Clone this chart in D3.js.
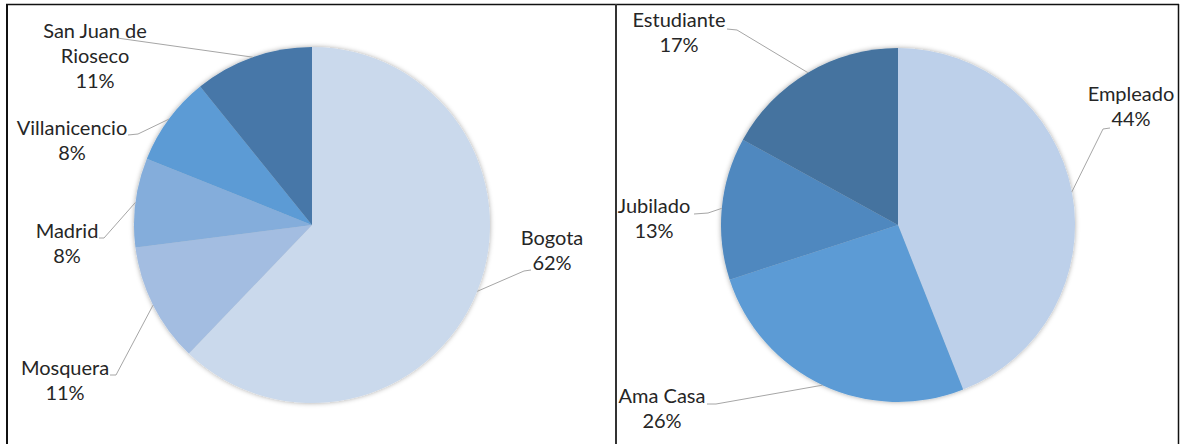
<!DOCTYPE html>
<html>
<head>
<meta charset="utf-8">
<script src="https://cdn.jsdelivr.net/npm/d3@7"></script>
<style>
  html, body { margin: 0; padding: 0; background: #fff; }
  svg { display: block; }
</style>
</head>
<body>
<svg id="chart" width="1181" height="444"></svg>
<script>
// left pie: place of origin (counts)
const cities = ["Bogota", "Mosquera", "Madrid", "Villanicencio", "San Juan de Rioseco"];
const cityCounts = [23, 4, 3, 3, 4];
const cityColors = ["#CAD9EC", "#A3BDE1", "#84ADDB", "#5B9BD5", "#4677A8"];

// right pie: occupation (percent)
const jobs = ["Empleado", "Ama Casa", "Jubilado", "Estudiante"];
const jobShares = [44, 26, 13, 17];
const jobColors = ["#BDD0EA", "#5B9BD5", "#4F88BF", "#44739F"];

// label layout: text lines, centre x, first baseline, leader start + elbow
const cityLabels = [
  { lines: ["Bogota"], x: 552, y: 245, from: [531, 270], elbow: [524, 271] },
  { lines: ["Mosquera"], x: 65, y: 375, from: [110, 375], elbow: [116, 375] },
  { lines: ["Madrid"], x: 67, y: 238, from: [99, 238], elbow: [104, 238] },
  { lines: ["Villanicencio"], x: 72, y: 135, from: [128, 135], elbow: [138, 134] },
  { lines: ["San Juan de", "Rioseco"], x: 95, y: 38, from: [117, 38], elbow: [117, 38] }
];
const jobLabels = [
  { lines: ["Empleado"], x: 1131, y: 101, from: [1110, 128], elbow: [1103, 129] },
  { lines: ["Ama Casa"], x: 662, y: 403, from: [707, 404], elbow: [716, 404] },
  { lines: ["Jubilado"], x: 654, y: 213, from: [694, 214], elbow: [708, 213] },
  { lines: ["Estudiante"], x: 679, y: 27, from: [727, 29], elbow: [737, 30] }
];

const svg = d3.select("#chart");
svg.append("rect").attr("width", 1181).attr("height", 444).attr("fill", "#fff");

const defs = svg.append("defs");
const shadow = defs.append("filter").attr("id", "pieShadow")
  .attr("x", "-10%").attr("y", "-10%").attr("width", "120%").attr("height", "120%");
shadow.append("feDropShadow")
  .attr("dx", 0).attr("dy", 0).attr("stdDeviation", 2.5)
  .attr("flood-color", "#000").attr("flood-opacity", 0.35);

// frames
const frame = svg.append("g").attr("stroke", "#111").attr("fill", "none");
frame.append("line").attr("x1", 6).attr("x2", 1179).attr("y1", 4.5).attr("y2", 4.5).attr("stroke-width", 1.5);
frame.append("line").attr("x1", 7).attr("x2", 7).attr("y1", 4).attr("y2", 444).attr("stroke-width", 2);
frame.append("line").attr("x1", 616).attr("x2", 616).attr("y1", 4).attr("y2", 444).attr("stroke-width", 2).attr("stroke", "#333");
frame.append("line").attr("x1", 1178.5).attr("x2", 1178.5).attr("y1", 4).attr("y2", 444).attr("stroke-width", 1.5);

function drawPie(cx, cy, radius, names, values, colors, labels) {
  const total = d3.sum(values);
  const pie = d3.pie().sort(null).value(d => d)(values);
  const arc = d3.arc().innerRadius(0).outerRadius(radius);

  const g = svg.append("g").attr("transform", `translate(${cx},${cy})`);
  g.append("g").attr("filter", "url(#pieShadow)")
    .selectAll("path")
    .data(pie)
    .join("path")
    .attr("d", arc)
    .attr("fill", (d, i) => colors[i]);

  pie.forEach((d, i) => {
    const lab = labels[i];
    const mid = (d.startAngle + d.endAngle) / 2;
    const edge = [cx + radius * Math.sin(mid), cy - radius * Math.cos(mid)];

    svg.append("polyline")
      .attr("points", [lab.from, lab.elbow, edge].map(p => p.join(",")).join(" "))
      .attr("fill", "none")
      .attr("stroke", "#A6A6A6")
      .attr("stroke-width", 1);

    const pct = Math.round(d.value / total * 100) + "%";
    const text = svg.append("text")
      .attr("x", lab.x)
      .attr("y", lab.y)
      .attr("text-anchor", "middle")
      .attr("font-family", "Lato, 'Open Sans', sans-serif")
      .attr("font-size", "20px")
      .attr("fill", "#262626");
    lab.lines.concat([pct]).forEach((line, k) => {
      text.append("tspan")
        .attr("x", lab.x)
        .attr("y", lab.y + k * 25)
        .text(line);
    });
  });
}

drawPie(312, 225, 178, cities, cityCounts, cityColors, cityLabels);
drawPie(898, 225, 177, jobs, jobShares, jobColors, jobLabels);
</script>
</body>
</html>
